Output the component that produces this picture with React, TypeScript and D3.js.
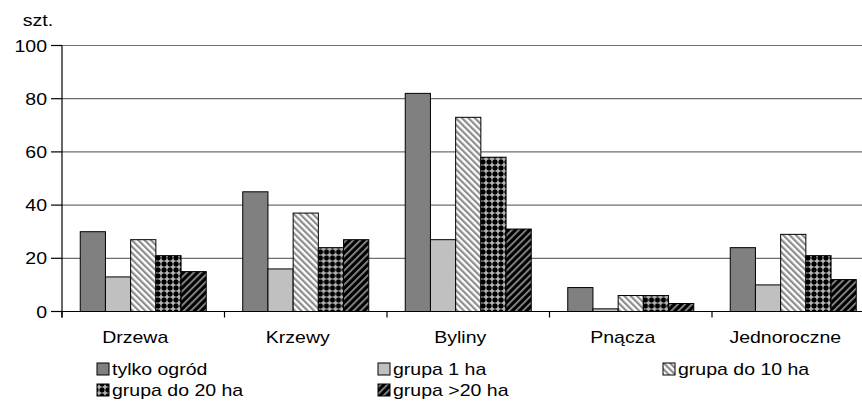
import React from "react";
import * as d3 from "d3";

const categories = ["Drzewa", "Krzewy", "Byliny", "Pnącza", "Jednoroczne"];
const seriesNames = ["tylko ogród", "grupa 1 ha", "grupa do 10 ha", "grupa do 20 ha", "grupa >20 ha"];
const tylkoOgrod = [30, 45, 82, 9, 24];
const grupa1 = [13, 16, 27, 1, 10];
const grupa10 = [27, 37, 73, 6, 29];
const grupa20 = [21, 24, 58, 6, 21];
const grupa20plus = [15, 27, 31, 3, 12];
const yTicks = [0, 20, 40, 60, 80, 100];

const seriesValues = [tylkoOgrod, grupa1, grupa10, grupa20, grupa20plus];
const fills = ["#808080", "#c0c0c0", "url(#p10)", "url(#p20)", "url(#p20plus)"];

const W = 862;
const H = 403;
const FONT = "'Liberation Sans', Arial, sans-serif";
const SX = 1.22; // text looks stretched sideways in the original

const T: React.FC<{ x: number; y: number; anchor?: string; children: React.ReactNode }> = ({
	x,
	y,
	anchor = "start",
	children,
}) => (
	<text
		transform={`translate(${x},${y}) scale(${SX},1)`}
		textAnchor={anchor}
		fontFamily={FONT}
		fontSize={16}
		fill="#000"
	>
		{children}
	</text>
);

export default function App() {
	const x0 = d3.scaleBand().domain(categories).range([62, 874.5]).paddingInner(0).paddingOuter(0);
	const x1 = d3
		.scaleBand()
		.domain(seriesNames)
		.range([0, x0.bandwidth()])
		.paddingInner(0)
		.paddingOuter(0.724);
	const y = d3.scaleLinear().domain([0, 100]).range([311.5, 45.5]);

	const legend = [
		{ x: 97, y: 375 },
		{ x: 378, y: 375 },
		{ x: 663, y: 375 },
		{ x: 97, y: 396 },
		{ x: 378, y: 396 },
	];

	return (
		<svg
			width={W}
			height={H}
			style={{ position: "absolute", left: 0, top: 0, background: "#fff" }}
		>
			<defs>
				<pattern id="p10" patternUnits="userSpaceOnUse" width={4.5} height={4.5} patternTransform="rotate(-45)">
					<rect width={4.5} height={4.5} fill="#fff" />
					<rect width={2.2} height={4.5} fill="#8c8c8c" />
				</pattern>
				<pattern id="p20" patternUnits="userSpaceOnUse" width={6} height={6}>
					<rect width={6} height={6} fill="#000" />
					<rect x={2} y={0.5} width={2} height={5} fill="#9a9a9a" />
					<rect x={0.5} y={2} width={5} height={2} fill="#9a9a9a" />
					<rect x={2.5} y={2.5} width={1} height={1} fill="#fff" />
				</pattern>
				<pattern id="p20plus" patternUnits="userSpaceOnUse" width={5} height={5} patternTransform="rotate(45)">
					<rect width={5} height={5} fill="#000" />
					<rect width={1.8} height={5} fill="#8a8a8a" />
				</pattern>
			</defs>

			{/* gridlines */}
			{yTicks
				.filter((t) => t > 0)
				.map((t) => (
					<line key={t} x1={62} x2={W} y1={y(t)} y2={y(t)} stroke="#6e6e6e" strokeWidth={1.2} />
				))}

			{/* bars */}
			{categories.map((c, i) => (
				<g key={c} transform={`translate(${x0(c)},0)`}>
					{seriesNames.map((s, j) => (
						<rect
							key={s}
							x={x1(s)}
							y={y(seriesValues[j][i])}
							width={x1.bandwidth()}
							height={y(0) - y(seriesValues[j][i])}
							fill={fills[j]}
							stroke="#000"
							strokeWidth={1}
						/>
					))}
				</g>
			))}

			{/* axes */}
			<line x1={62} x2={W} y1={y(0)} y2={y(0)} stroke="#000" strokeWidth={1.2} />
			<line x1={62} x2={62} y1={y(100)} y2={y(0) + 6} stroke="#000" strokeWidth={1.2} />
			{categories.map((c) => (
				<line key={c} x1={x0(c)!} x2={x0(c)!} y1={y(0)} y2={y(0) + 6} stroke="#000" strokeWidth={1.2} />
			))}
			{yTicks.map((t) => (
				<g key={t}>
					<line x1={51} x2={62} y1={y(t)} y2={y(t)} stroke="#000" strokeWidth={1.2} />
					<T x={47} y={y(t) + 6} anchor="end">
						{t}
					</T>
				</g>
			))}
			<T x={38} y={26} anchor="middle">
				szt.
			</T>

			{categories.map((c) => (
				<T key={c} x={x0(c)! + x0.bandwidth() / 2 - 8} y={343} anchor="middle">
					{c}
				</T>
			))}

			{/* legend */}
			{seriesNames.map((s, j) => (
				<g key={s}>
					<rect
						x={legend[j].x}
						y={legend[j].y - 12}
						width={12}
						height={12}
						fill={fills[j]}
						stroke="#000"
						strokeWidth={1}
					/>
					<T x={legend[j].x + 15} y={legend[j].y}>
						{s}
					</T>
				</g>
			))}
		</svg>
	);
}
